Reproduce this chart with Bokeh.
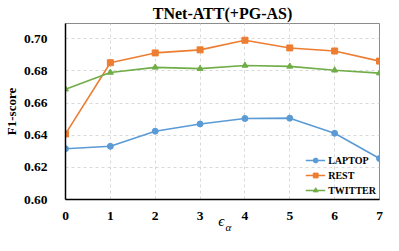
from bokeh.plotting import figure
from bokeh.models import Range1d, Legend, LegendItem, FixedTicker, LinearAxis
from bokeh.embed import file_html
from bokeh.resources import INLINE

x_vals = [0, 1, 2, 3, 4, 5, 6, 7]
laptop = [0.6316, 0.6331, 0.6425, 0.6470, 0.6504, 0.6506, 0.6412, 0.6255]
rest = [0.6408, 0.6851, 0.6912, 0.6931, 0.6991, 0.6943, 0.6924, 0.6861]
twitter = [0.6686, 0.6790, 0.6822, 0.6814, 0.6834, 0.6828, 0.6804, 0.6786]
y_ticks = [0.60, 0.62, 0.64, 0.66, 0.68, 0.70]
title_text = "TNet-ATT(+PG-AS)"
series_names = ["LAPTOP", "REST", "TWITTER"]
colors = ["#5B9BD5", "#ED7D31", "#70AD47"]
x_label_main = "ϵ"
x_label_sub = "α"

FONT = "Liberation Serif"

p = figure(width=383, height=235, output_backend="svg", toolbar_location=None,
           x_range=Range1d(0, 7), y_range=Range1d(0.60, 0.7095))
p.title.text = title_text
p.title.align = "center"
p.title.text_font = FONT
p.title.text_font_size = "16px"
p.title.text_font_style = "bold"
p.title.text_color = "black"
p.title.standoff = 4
p.min_border_left = 53
p.min_border_right = 4
p.min_border_top = 0
p.min_border_bottom = 0

p.outline_line_color = "#8C8C8C"
p.outline_line_width = 1

for ax in (p.xaxis[0], p.yaxis[0]):
    ax.axis_line_color = "black"
    ax.axis_line_width = 1.5
    ax.major_tick_line_color = None
    ax.minor_tick_line_color = None
    ax.major_label_text_font = FONT
    ax.major_label_text_font_style = "bold"
    ax.major_label_text_font_size = "13.5px"
    ax.major_label_text_color = "black"
    ax.axis_label_text_font = FONT
    ax.axis_label_text_font_style = "bold"
    ax.axis_label_text_font_size = "13px"
    ax.axis_label_text_color = "black"

p.xaxis.ticker = FixedTicker(ticks=x_vals)
p.yaxis.ticker = FixedTicker(ticks=y_ticks)
p.yaxis.major_label_overrides = {t: f"{t:.2f}" for t in y_ticks}
p.yaxis.axis_label = "F1-score"
p.yaxis.axis_label_standoff = 2
p.yaxis.major_label_standoff = 12
p.xaxis.major_label_standoff = 6

# x-axis title: epsilon with a subscript alpha, drawn as two label-only axes
eps_axis = LinearAxis(ticker=FixedTicker(ticks=[3.47]),
                      major_label_overrides={3.47: x_label_main})
sub_axis = LinearAxis(ticker=FixedTicker(ticks=[3.63]),
                      major_label_overrides={3.63: x_label_sub})
for ax, size, so in ((eps_axis, "15px", -10), (sub_axis, "11px", -11)):
    ax.axis_line_color = None
    ax.major_tick_line_color = None
    ax.minor_tick_line_color = None
    ax.major_tick_out = 0
    ax.major_label_text_font = FONT
    ax.major_label_text_font_style = "italic"
    ax.major_label_text_font_size = size
    ax.major_label_text_color = "black"
    ax.major_label_standoff = so
    p.add_layout(ax, "below")

p.xgrid.grid_line_color = "#D9D9D9"
p.ygrid.grid_line_color = "#D9D9D9"
p.xgrid.grid_line_dash = "3 3"
p.ygrid.grid_line_dash = "3 3"
p.xgrid.ticker = FixedTicker(ticks=x_vals)

items = []
data = [laptop, rest, twitter]
markers = ["circle", "square", "triangle"]
for name, ys, c, m in zip(series_names, data, colors, markers):
    l = p.line(x_vals, ys, line_color=c, line_width=1.6)
    s = p.scatter(x_vals, ys, marker=m, size=6, fill_color=c, line_color=c)
    items.append(LegendItem(label=name, renderers=[l, s]))

legend = Legend(items=items, location="bottom_right")
legend.border_line_color = None
legend.background_fill_alpha = 0
legend.label_text_font = FONT
legend.label_text_font_style = "bold"
legend.label_text_font_size = "10px"
legend.label_text_color = "black"
legend.glyph_width = 20
legend.glyph_height = 12
legend.label_height = 12
legend.label_standoff = 3
legend.spacing = 3
legend.padding = 0
legend.margin = 3
p.add_layout(legend)

open("out.html", "w").write(file_html(p, INLINE))
